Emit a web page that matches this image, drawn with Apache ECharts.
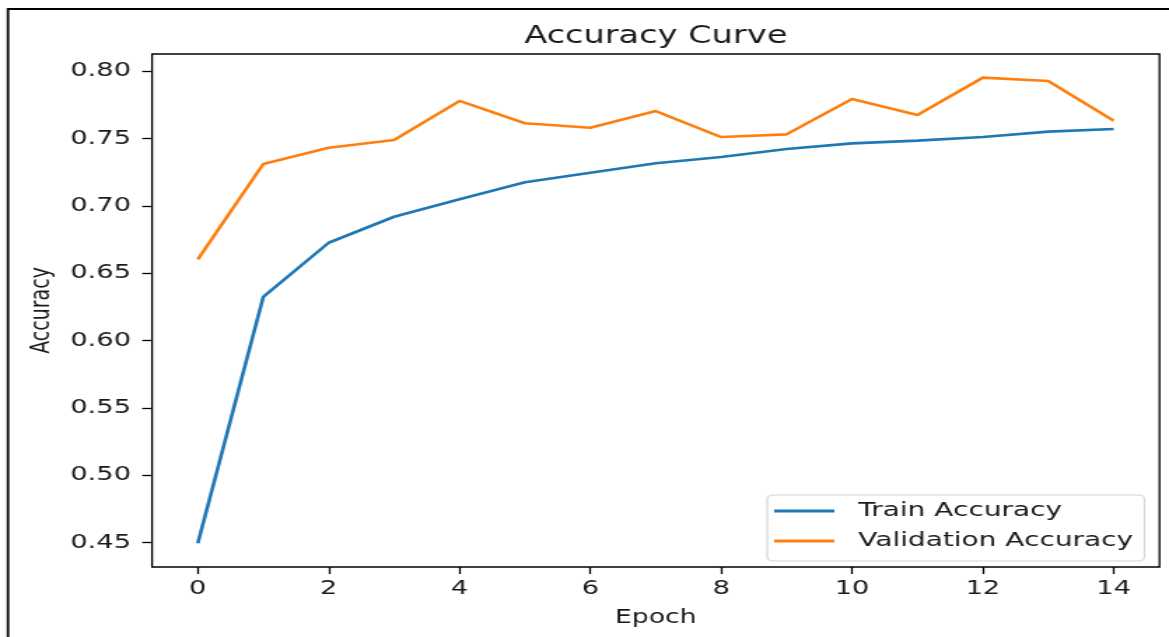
<!DOCTYPE html>
<html>
<head>
<meta charset="utf-8">
<script src="https://cdn.jsdelivr.net/npm/echarts@6/dist/echarts.min.js"></script>
<style>
    html, body { margin: 0; padding: 0; background: #fff; overflow: hidden; }
    /* the reference picture is stretched sideways, so draw narrow and widen it */
    #chart { width: 835px; height: 637px; transform: scaleX(1.4); transform-origin: 0 0; }
</style>
</head>
<body>
<div id="chart"></div>
<script>
const epochs = [0, 1, 2, 3, 4, 5, 6, 7, 8, 9, 10, 11, 12, 13, 14]
const trainAcc = [0.4496, 0.6325, 0.6727, 0.6920, 0.7050, 0.7176, 0.7247, 0.7317, 0.7364, 0.7423, 0.7465, 0.7485, 0.7512, 0.7552, 0.7572]
const valAcc = [0.6604, 0.7312, 0.7433, 0.7490, 0.7780, 0.7614, 0.7581, 0.7705, 0.7512, 0.7532, 0.7794, 0.7676, 0.7953, 0.7928, 0.7633]
const xTicks = [0, 2, 4, 6, 8, 10, 12, 14]
const yTicks = [0.45, 0.50, 0.55, 0.60, 0.65, 0.70, 0.75, 0.80]

const font = 'DejaVu Sans'
const textColor = '#1a1a1a'

let chartLine = echarts.getInstanceByDom(document.getElementById('chart'))
if (!chartLine) chartLine = echarts.init(document.getElementById('chart'))

const option = {
    animation: false,
    textStyle: { fontFamily: font },
    grid: {
        left: 108.6,
        top: 54,
        width: 719.6,
        height: 513,
        show: true,
        borderColor: '#000',
        borderWidth: 1.3
    },
    graphic: [
        { // 外框
            type: 'rect',
            shape: { x: 5.7, y: 9, width: 1200, height: 1000 },
            style: { fill: 'none', stroke: '#000', lineWidth: 1.8 },
            silent: true
        },
        { // 标题
            type: 'text',
            x: 468.4,
            y: 25,
            style: {
                text: 'Accuracy Curve',
                fill: textColor,
                font: '24px "DejaVu Sans"',
                textAlign: 'center',
                textVerticalAlign: 'top'
            }
        }
    ],
    legend: {
        orient: 'vertical',
        left: 548,
        top: 495,
        padding: [6, 8, 10, 5],
        icon: 'rect',
        itemWidth: 43,
        itemHeight: 3,
        itemGap: 10,
        backgroundColor: '#fff',
        borderColor: '#d4d4d4',
        borderWidth: 1.2,
        borderRadius: 4,
        textStyle: { fontFamily: font, fontSize: 20, color: textColor, padding: [0, 0, 0, 12] },
        data: ['Train Accuracy', 'Validation Accuracy']
    },
    xAxis: {
        type: 'value',
        min: -0.7,
        max: 14.7,
        name: 'Epoch',
        nameLocation: 'middle',
        nameGap: 42,
        nameTextStyle: { fontFamily: font, fontSize: 19, color: textColor },
        splitLine: { show: false },
        axisLine: { show: false, onZero: false },
        axisTick: { show: true, length: 7, customValues: xTicks, lineStyle: { color: '#000', width: 1.3 } },
        axisLabel: { customValues: xTicks, margin: 12, fontSize: 19.5, color: textColor, fontFamily: font }
    },
    yAxis: {
        type: 'value',
        min: 0.43196,
        max: 0.81284,
        name: 'Accuracy',
        nameLocation: 'middle',
        nameGap: 69,
        nameTextStyle: { fontFamily: font, fontSize: 19, color: textColor },
        splitLine: { show: false },
        axisLine: { show: false, onZero: false },
        axisTick: { show: true, length: 7, customValues: yTicks, lineStyle: { color: '#000', width: 1.3 } },
        axisLabel: {
            customValues: yTicks,
            margin: 15,
            fontSize: 19.5,
            color: textColor,
            fontFamily: font,
            formatter: function (v) { return v.toFixed(2) }
        }
    },
    series: [
        {
            name: 'Train Accuracy',
            type: 'line',
            symbol: 'none',
            color: '#1f77b4',
            lineStyle: { width: 2.6, color: '#1f77b4' },
            data: epochs.map((e, i) => [e, trainAcc[i]])
        },
        {
            name: 'Validation Accuracy',
            type: 'line',
            symbol: 'none',
            color: '#ff7f0e',
            lineStyle: { width: 2.6, color: '#ff7f0e' },
            data: epochs.map((e, i) => [e, valAcc[i]])
        }
    ]
}
chartLine.clear()
option && chartLine.setOption(option)

window.addEventListener('resize', function () {
    chartLine.resize()
})
</script>
</body>
</html>
